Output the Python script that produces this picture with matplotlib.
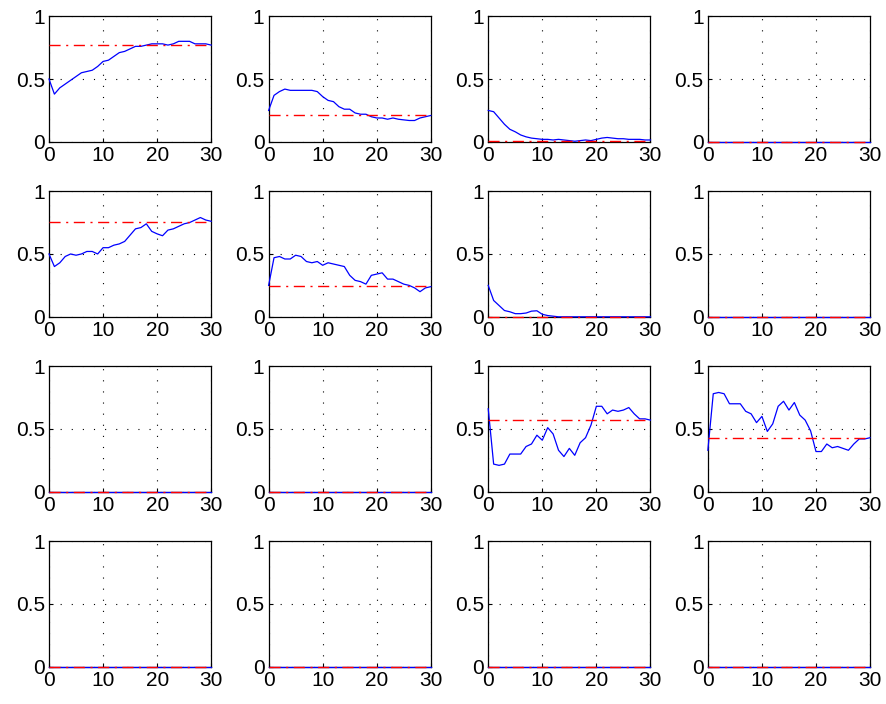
"""
Grid of 4x4 time-course panels (MATLAB style) with a reference level per panel.
"""

import numpy as np
from matplotlib import pyplot as plt

plt.rcParams['font.family'] = ['Liberation Sans', 'DejaVu Sans']

x = np.arange(31)
zeros = [0.0] * 31

# panel series, row by row
p00 = [0.50, 0.38, 0.43, 0.46, 0.49, 0.52, 0.55, 0.56, 0.57, 0.60, 0.64, 0.65, 0.68, 0.71, 0.72, 0.74,
       0.76, 0.76, 0.77, 0.78, 0.78, 0.78, 0.77, 0.78, 0.80, 0.80, 0.80, 0.78, 0.78, 0.78, 0.77]
p01 = [0.25, 0.37, 0.40, 0.42, 0.41, 0.41, 0.41, 0.41, 0.41, 0.40, 0.36, 0.33, 0.32, 0.28, 0.26, 0.26,
       0.23, 0.22, 0.22, 0.20, 0.19, 0.19, 0.18, 0.19, 0.18, 0.175, 0.17, 0.17, 0.19, 0.20, 0.21]
p02 = [0.25, 0.24, 0.19, 0.14, 0.10, 0.08, 0.055, 0.04, 0.03, 0.025, 0.02, 0.02, 0.015, 0.02, 0.015, 0.01,
       0.005, 0.01, 0.015, 0.01, 0.02, 0.03, 0.035, 0.03, 0.025, 0.025, 0.02, 0.02, 0.02, 0.015, 0.015]
p10 = [0.50, 0.40, 0.43, 0.48, 0.50, 0.49, 0.50, 0.52, 0.52, 0.50, 0.55, 0.55, 0.57, 0.58, 0.60, 0.65,
       0.70, 0.71, 0.74, 0.68, 0.66, 0.645, 0.69, 0.70, 0.72, 0.74, 0.75, 0.77, 0.79, 0.77, 0.76]
p11 = [0.25, 0.47, 0.48, 0.46, 0.46, 0.49, 0.48, 0.44, 0.43, 0.44, 0.41, 0.43, 0.42, 0.41, 0.40, 0.33,
       0.29, 0.28, 0.26, 0.33, 0.34, 0.35, 0.30, 0.30, 0.28, 0.26, 0.25, 0.23, 0.20, 0.23, 0.24]
p12 = [0.25, 0.13, 0.09, 0.05, 0.04, 0.025, 0.025, 0.03, 0.045, 0.048, 0.02, 0.01, 0.005, 0.0, 0.0, 0.0,
       0.0, 0.0, 0.0, 0.0, 0.0, 0.0, 0.0, 0.0, 0.0, 0.0, 0.0, 0.0, 0.0, 0.0, 0.0]
p22 = [0.66, 0.22, 0.21, 0.22, 0.30, 0.30, 0.30, 0.36, 0.38, 0.45, 0.41, 0.51, 0.46, 0.33, 0.28, 0.345,
       0.29, 0.39, 0.43, 0.53, 0.68, 0.68, 0.62, 0.65, 0.64, 0.65, 0.67, 0.62, 0.58, 0.58, 0.57]
p23 = [0.33, 0.78, 0.79, 0.78, 0.70, 0.70, 0.70, 0.64, 0.62, 0.55, 0.60, 0.48, 0.54, 0.68, 0.72, 0.65,
       0.71, 0.61, 0.57, 0.485, 0.32, 0.32, 0.38, 0.35, 0.36, 0.345, 0.33, 0.38, 0.42, 0.42, 0.43]

series = [p00, p01, p02, zeros,
          p10, p11, p12, zeros,
          zeros, zeros, p22, p23,
          zeros, zeros, zeros, zeros]
levels = [0.767, 0.21, 0.01, 0.0,
          0.756, 0.244, 0.0, 0.0,
          0.0, 0.0, 0.57, 0.43,
          0.0, 0.0, 0.0, 0.0]

fig, axes = plt.subplots(4, 4, figsize=(8.86, 7.04), dpi=100)
fig.subplots_adjust(left=0.0553, right=0.982, top=0.977, bottom=0.053, wspace=0.354, hspace=0.392)

for ax, y, lev in zip(axes.flat, series, levels):
    ax.plot(x, y, color='blue', linewidth=0.9, zorder=3, clip_on=False)
    ax.plot([0, 30], [lev, lev], color='red', linestyle='-.', linewidth=1.0,
            dashes=(8, 4, 1.5, 4), zorder=4, clip_on=False)
    ax.set_xlim(0, 30)
    ax.set_ylim(0, 1)
    ax.set_xticks([0, 10, 20, 30])
    ax.set_yticks([0, 0.5, 1])
    ax.set_yticklabels(['0', '0.5', '1'])
    ax.grid(True, color='black', linestyle=(0, (1, 9)), linewidth=0.8)
    ax.tick_params(direction='in', length=3, labelsize=15, pad=3)
    for s in ax.spines.values():
        s.set_linewidth(0.9)

plt.savefig('out.png', dpi=100)
